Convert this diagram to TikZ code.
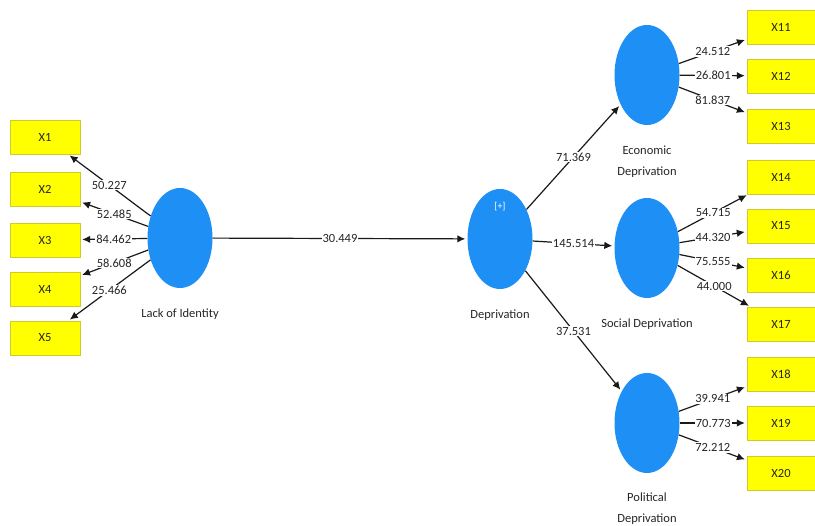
\documentclass[tikz,border=0pt]{standalone}
\usepackage{fontspec}
\setmainfont{Carlito}
\usetikzlibrary{positioning,arrows.meta,shapes.geometric}
\definecolor{lvblue}{RGB}{30,144,245}
\definecolor{mvyellow}{RGB}{255,255,0}

\begin{document}
\begin{tikzpicture}[x=1pt, y=-1pt, font=\fontsize{12.5}{14}\selectfont, text=black!85,
    latent/.style={ellipse, fill=lvblue, minimum width=65pt, minimum height=100pt, inner sep=0pt},
    indicator/.style={rectangle, fill=mvyellow, draw=yellow!80!black, line width=0.4pt, minimum width=68pt, minimum height=34pt, inner sep=0pt},
    lvname/.style={align=center, font=\fontsize{12.5}{21.5}\selectfont},
    link/.style={-{Latex[length=8pt,width=7.5pt]}, line width=1.2pt, black!90, shorten >=2pt},
    coef/.style={fill=white, inner sep=1pt, text=black!85}]
    \useasboundingbox (0,0) rectangle (815,526);
    \node[latent] (lid) at (180,238) {};
    \node[latent] (dep) at (500,239) {};
    \node[latent] (eco) at (647,75) {};
    \node[latent] (soc) at (647,248) {};
    \node[latent] (pol) at (647,423) {};
    \node[text=white, font=\fontsize{10}{10}\selectfont] (depplus) at (500,207) {[+]};
    \node[lvname, below=17pt of lid] (lidname) {Lack of Identity};
    \node[lvname, below=17pt of dep] (depname) {Deprivation};
    \node[lvname, below=17pt of eco] (econame) {Economic\\Deprivation};
    \node[lvname, below=17pt of soc] (socname) {Social Deprivation};
    \node[lvname, below=16pt of pol] (polname) {Political\\Deprivation};
    \foreach \i/\y in {1/137,2/189,3/240,4/289,5/338}{\node[indicator, minimum width=70pt] (x\i) at (45,\y) {X\i};}
    \foreach \i/\y in {11/27,12/76,13/126,14/177,15/226,16/275,17/324,18/374,19/423,20/473}{\node[indicator] (x\i) at (781,\y) {X\i};}
    \foreach \i/\v in {1/50.227,2/52.485,3/84.462,4/58.608,5/25.466}{\draw[link] (lid) -- node[coef] {\v} (x\i);}
    \foreach \i/\v in {11/24.512,12/26.801,13/81.837}{\draw[link] (eco) -- node[coef] {\v} (x\i);}
    \foreach \i/\v in {14/54.715,15/44.320,16/75.555,17/44.000}{\draw[link] (soc) -- node[coef] {\v} (x\i);}
    \foreach \i/\v in {18/39.941,19/70.773,20/72.212}{\draw[link] (pol) -- node[coef] {\v} (x\i);}
    \foreach \t/\v in {eco/71.369,soc/145.514,pol/37.531}{\draw[link] (dep) -- node[coef] {\v} (\t);}
    \draw[link] (lid) -- node[coef] {30.449} (dep);
\end{tikzpicture}
\end{document}
